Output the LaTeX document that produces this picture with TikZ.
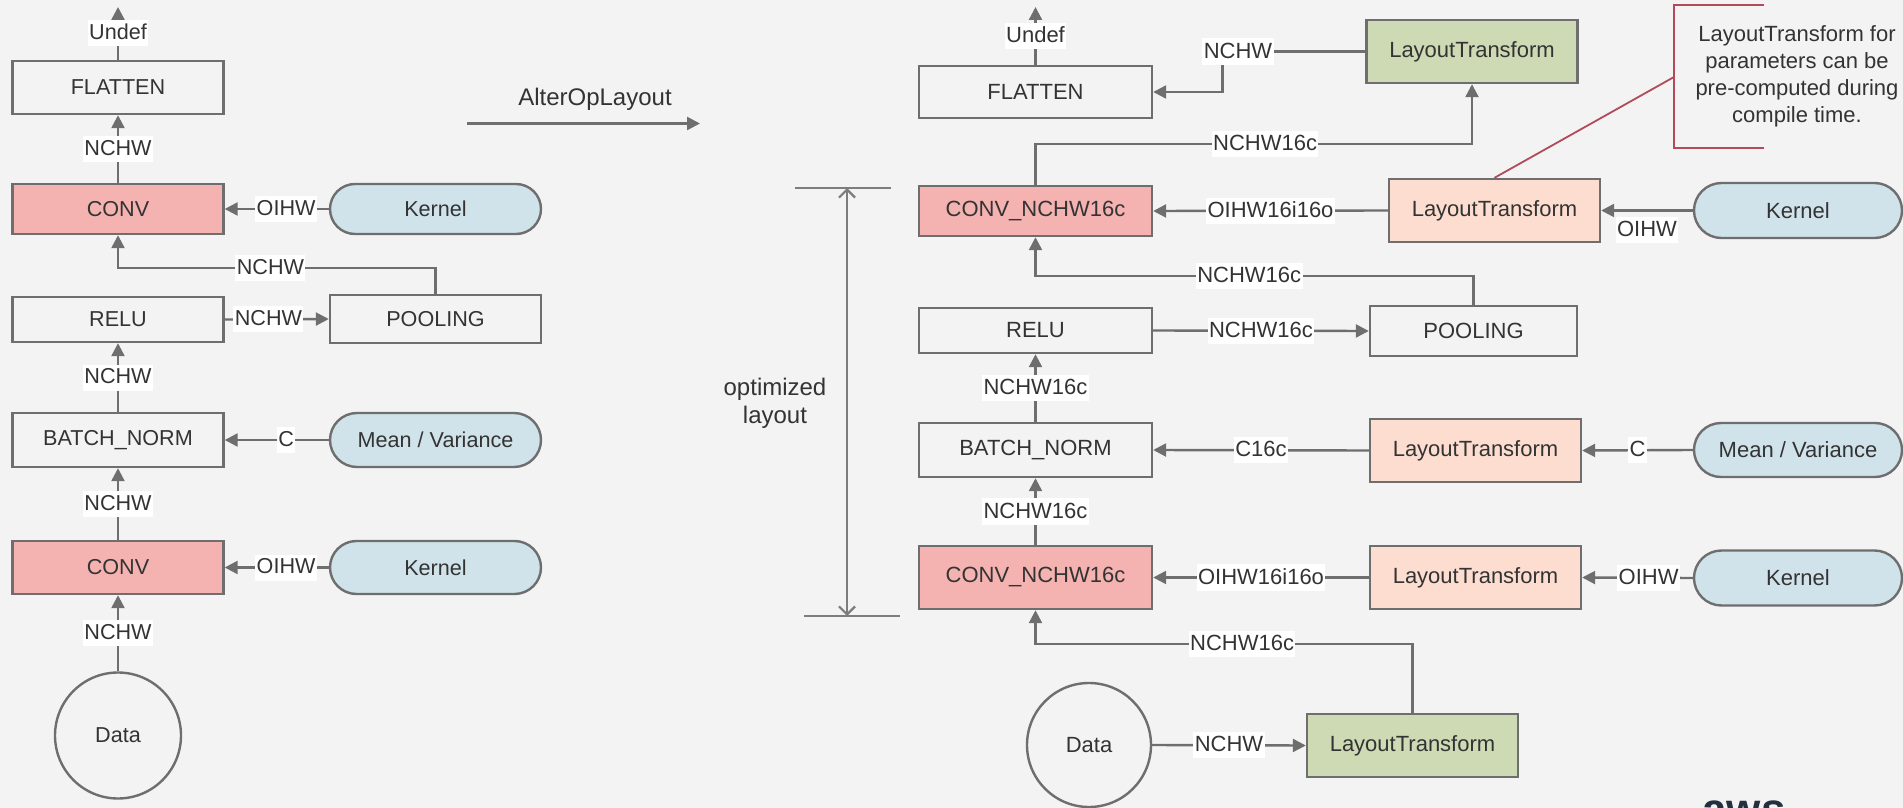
\documentclass[tikz,border=0pt]{standalone}
\usepackage{fontspec}
\setmainfont{Liberation Sans}
\usetikzlibrary{arrows.meta,shapes.geometric}
\definecolor{bg}{HTML}{F2F3F2}
\definecolor{edge}{HTML}{6E6E6E}
\definecolor{ink}{HTML}{333333}
\definecolor{convfill}{HTML}{F4B2B0}
\definecolor{paramfill}{HTML}{D0E3EA}
\definecolor{peachfill}{HTML}{FDDDCF}
\definecolor{greenfill}{HTML}{CDDAB4}
\definecolor{notecol}{HTML}{B24A5C}
\definecolor{awsc}{HTML}{232F3E}

\begin{document}
\begin{tikzpicture}[x=0.5pt,y=-0.5pt,
  op/.style={draw=edge, line width=1.2pt, rectangle, inner sep=0pt, text=ink},
  smallfont/.style={font=\fontsize{10.8pt}{12pt}\selectfont},
  largefont/.style={font=\fontsize{11pt}{13pt}\selectfont},
  opL/.style={op, smallfont, minimum width=105.5pt},
  opR/.style={op, largefont, minimum width=116.5pt},
  xform/.style={op, largefont, minimum width=105.5pt, minimum height=31.5pt},
  pillL/.style={op, smallfont, fill=paramfill, minimum width=105.5pt, minimum height=25pt, rounded corners=12.5pt},
  pillR/.style={op, largefont, fill=paramfill, minimum width=104pt, minimum height=27.5pt, rounded corners=13.75pt},
  lblL/.style={fill=white, inner sep=0.7pt, text=ink, smallfont, text height=9pt, text depth=2.6pt},
  lblR/.style={fill=white, inner sep=0.7pt, text=ink, largefont, text height=9.2pt, text depth=2.6pt},
  wire/.style={draw=edge, line width=1.2pt},
  arr/.style={wire, -{Triangle[length=6.5pt,width=6.5pt]}},
]
\fill[bg] (0,0) rectangle (1903,808);
\useasboundingbox (0,0) rectangle (1903,808);

% ---------------- original graph ----------------
\node[opL, minimum height=26.5pt] (flL) at (118,87.5) {FLATTEN};
\node[opL, minimum height=25pt, fill=convfill] (cv1L) at (118,209) {CONV};
\node[pillL] (k1L) at (435.5,209) {Kernel};
\node[opL, minimum height=22.5pt] (reL) at (118,319.5) {RELU};
\node[opL, minimum height=24pt] (poL) at (435.5,319) {POOLING};
\node[opL, minimum height=27pt] (bnL) at (118,440) {BATCH\_NORM};
\node[pillL, minimum height=27pt, rounded corners=13.5pt] (mvL) at (435.5,440) {Mean / Variance};
\node[opL, minimum height=26.5pt, fill=convfill] (cv2L) at (118,567.5) {CONV};
\node[pillL, minimum height=26.5pt, rounded corners=13.25pt] (k2L) at (435.5,567.5) {Kernel};
\node[op, circle, smallfont, minimum size=63pt] (daL) at (118,735.5) {Data};
\coordinate (outL) at (118,7);

\draw[arr] (flL.north) -- node[lblL]{Undef} (outL);
\draw[arr] (cv1L.north) -- node[lblL]{NCHW} (flL.south);
\draw[arr] (k1L.west) -- node[lblL,pos=0.41]{OIHW} (cv1L.east);
\draw[arr] (poL.north) -- ++(0,-26) -| node[lblL,pos=0.26]{NCHW} (cv1L.south);
\draw[arr] (reL.east) -- node[lblL,pos=0.42]{NCHW} (poL.west);
\draw[arr] (bnL.north) -- node[lblL]{NCHW} (reL.south);
\draw[arr] (mvL.west) -- node[lblL,pos=0.41]{C} (bnL.east);
\draw[arr] (cv2L.north) -- node[lblL]{NCHW} (bnL.south);
\draw[arr] (k2L.west) -- node[lblL,pos=0.41]{OIHW} (cv2L.east);
\draw[arr] (daL.north) -- node[lblL]{NCHW} (cv2L.south);

% ---------------- pass arrow ----------------
\coordinate (passA) at (467,123.5);
\coordinate (passB) at (700,123.5);
\draw[arr] (passA) -- (passB);
\node[text=ink, font=\fontsize{12pt}{14pt}\selectfont] (passT) at (595,99) {AlterOpLayout};

% ---------------- extent of the optimized region ----------------
\coordinate (t1) at (795,188); \coordinate (t2) at (891,188);
\coordinate (b1) at (804,616); \coordinate (b2) at (900,616);
\coordinate (dimT) at (847,188); \coordinate (dimB) at (847,616);
\draw[draw=edge!90, line width=1pt] (t1) -- (t2);
\draw[draw=edge!90, line width=1pt] (b1) -- (b2);
\draw[draw=edge!90, line width=1.1pt, {Straight Barb[length=4pt,width=8pt]}-{Straight Barb[length=4pt,width=8pt]}] (dimT) -- (dimB);
\node[text=ink, align=center, font=\fontsize{12pt}{14pt}\selectfont] (optT) at (775,403) {optimized\\layout};

% ---------------- transformed graph ----------------
\node[opR, minimum height=26pt] (flR) at (1035.5,92) {FLATTEN};
\node[xform, fill=greenfill] (ltTop) at (1472,51.5) {LayoutTransform};
\node[opR, minimum height=25pt, fill=convfill] (cv1R) at (1035.5,211) {CONV\_NCHW16c};
\node[xform, fill=peachfill] (ltK1) at (1494.5,210.5) {LayoutTransform};
\node[pillR] (k1R) at (1798,210.5) {Kernel};
\node[opR, minimum height=22.5pt] (reR) at (1035.5,330.5) {RELU};
\node[opR, minimum width=103.5pt, minimum height=25pt] (poR) at (1473.5,331) {POOLING};
\node[opR, minimum height=27pt] (bnR) at (1035.5,450) {BATCH\_NORM};
\node[xform, fill=peachfill] (ltMV) at (1475.5,450.5) {LayoutTransform};
\node[pillR, minimum height=27pt, rounded corners=13.5pt] (mvR) at (1798,450) {Mean / Variance};
\node[opR, minimum height=31.5pt, fill=convfill] (cv2R) at (1035.5,577.5) {CONV\_NCHW16c};
\node[xform, fill=peachfill] (ltK2) at (1475.5,577.5) {LayoutTransform};
\node[pillR] (k2R) at (1798,578) {Kernel};
\node[op, circle, largefont, minimum size=62pt] (daR) at (1089,745) {Data};
\node[xform, fill=greenfill] (ltBot) at (1412.5,745.5) {LayoutTransform};
\coordinate (outR) at (1035.5,7);

\draw[arr] (flR.north) -- node[lblR]{Undef} (outR);
\draw[arr] (ltTop.west) -- node[lblR,pos=0.89]{NCHW} ++(-143,0) |- (flR.east);
\draw[arr] (cv1R.north) -- ++(0,-41) -| node[lblR,pos=0.263]{NCHW16c} (ltTop.south);
\draw[arr] (ltK1.west) -- node[lblR]{OIHW16i16o} (cv1R.east);
\draw[arr] (k1R.west) -- node[lblR,below=2.5pt]{OIHW} (ltK1.east);
\draw[arr] (poR.north) -- ++(0,-29) -| node[lblR,pos=0.256]{NCHW16c} (cv1R.south);
\draw[arr] (reR.east) -- node[lblR]{NCHW16c} (poR.west);
\draw[arr] (bnR.north) -- node[lblR]{NCHW16c} (reR.south);
\draw[arr] (ltMV.west) -- node[lblR]{C16c} (bnR.east);
\draw[arr] (mvR.west) -- node[lblR]{C} (ltMV.east);
\draw[arr] (cv2R.north) -- node[lblR]{NCHW16c} (bnR.south);
\draw[arr] (ltK2.west) -- node[lblR]{OIHW16i16o} (cv2R.east);
\draw[arr] (k2R.west) -- node[lblR,pos=0.4]{OIHW} (ltK2.east);
\draw[arr] (daR.east) -- node[lblR]{NCHW} (ltBot.west);
\draw[arr] (ltBot.north) -- ++(0,-69) -| node[lblR,pos=0.226]{NCHW16c} (cv2R.south);

% ---------------- note on parameter transforms ----------------
\coordinate (nTop) at (1764,5);
\coordinate (nBot) at (1764,148);
\coordinate (nMid) at (1674,77);
\draw[notecol, line width=1pt] (nTop) -- (1674,5) -- (1674,148) -- (nBot);
\draw[notecol, line width=0.9pt] (nMid) -- (ltK1.north);
\node[text=ink, align=center, font=\fontsize{11pt}{13.5pt}\selectfont] (note) at (1797,76)
  {LayoutTransform for\\parameters can be\\pre-computed during\\compile time.};

% ---------------- corner logo ----------------
\node[anchor=base west, inner sep=0pt, text=awsc, font=\bfseries\fontsize{22pt}{22pt}\selectfont] (logo) at (1702,824) {aws};
\end{tikzpicture}
\end{document}
